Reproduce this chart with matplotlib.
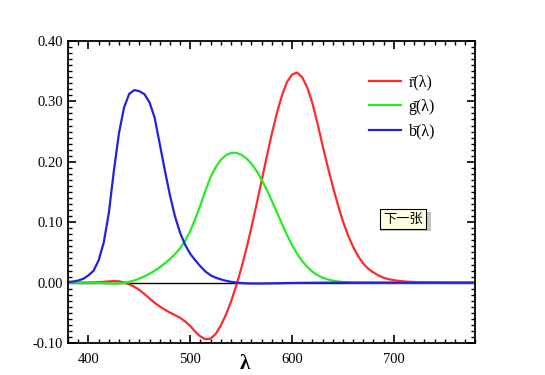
import numpy as np
import matplotlib.pyplot as plt
from matplotlib.patches import Rectangle
from matplotlib.ticker import MultipleLocator

plt.rcParams['font.family'] = ['Liberation Serif', 'DejaVu Serif']

# CIE 1931 RGB colour matching functions, read at 5 nm steps
wavelength = np.arange(380, 785, 5)
r_bar = [0.00003, 0.00005, 0.00010, 0.00017, 0.00030, 0.00047, 0.00084, 0.00139,
         0.00211, 0.00266, 0.00218, 0.00036, -0.00261, -0.00673, -0.01213, -0.01874,
         -0.02608, -0.03324, -0.03933, -0.04471, -0.04939, -0.05364, -0.05814, -0.06414,
         -0.07173, -0.08120, -0.08901, -0.09356, -0.09264, -0.08473, -0.07101, -0.05316,
         -0.03152, -0.00613, 0.02279, 0.05514, 0.09060, 0.12840, 0.16768, 0.20715,
         0.24526, 0.27989, 0.30928, 0.33184, 0.34429, 0.34756, 0.33971, 0.32265,
         0.29708, 0.26348, 0.22677, 0.19233, 0.15968, 0.12905, 0.10167, 0.07857,
         0.05932, 0.04366, 0.03149, 0.02294, 0.01687, 0.01187, 0.00819, 0.00572,
         0.00410, 0.00291, 0.00210, 0.00148, 0.00105, 0.00074, 0.00052, 0.00036,
         0.00025, 0.00017, 0.00012, 0.00008, 0.00006, 0.00004, 0.00003, 0.00001, 0.0]
g_bar = [-0.00001, -0.00002, -0.00004, -0.00007, -0.00014, -0.00022, -0.00041, -0.00070,
         -0.00110, -0.00143, -0.00119, -0.00021, 0.00149, 0.00379, 0.00678, 0.01046,
         0.01485, 0.01977, 0.02538, 0.03183, 0.03914, 0.04713, 0.05689, 0.06948,
         0.08536, 0.10593, 0.12860, 0.15262, 0.17468, 0.19113, 0.20317, 0.21083,
         0.21466, 0.21487, 0.21178, 0.20588, 0.19702, 0.18522, 0.17087, 0.15429,
         0.13610, 0.11686, 0.09754, 0.07909, 0.06246, 0.04776, 0.03557, 0.02583,
         0.01828, 0.01253, 0.00833, 0.00537, 0.00334, 0.00199, 0.00116, 0.00066,
         0.00037, 0.00021, 0.00011, 0.00006, 0.00003, 0.00001] + [0.0] * 19
b_bar = [0.00117, 0.00189, 0.00359, 0.00647, 0.01214, 0.01969, 0.03707, 0.06637,
         0.11541, 0.18575, 0.24769, 0.29012, 0.31228, 0.31860, 0.31670, 0.31166,
         0.29821, 0.27295, 0.22991, 0.18592, 0.14494, 0.10968, 0.08257, 0.06246,
         0.04776, 0.03688, 0.02698, 0.01842, 0.01221, 0.00830, 0.00549, 0.00320,
         0.00146, 0.00023, -0.00058, -0.00105, -0.00130, -0.00138, -0.00135, -0.00123,
         -0.00108, -0.00093, -0.00079, -0.00063, -0.00049, -0.00038, -0.00030, -0.00022,
         -0.00015, -0.00011, -0.00008, -0.00005, -0.00003, -0.00002, -0.00001, -0.00001] + [0.0] * 25

labels = ['r\u0304(λ)', 'g\u0304(λ)', 'b\u0304(λ)']
colors = ['#ff2a2a', '#22ee22', '#2222dd']

fig = plt.figure(figsize=(5.45, 3.75), dpi=100)
ax = fig.add_axes([0.125, 0.085, 0.747, 0.806])

ax.axhline(0, color='black', lw=1.0, zorder=1)
for y, c, lab in zip([r_bar, g_bar, b_bar], colors, labels):
    ax.plot(wavelength, y, color=c, lw=1.6, label=lab, solid_joinstyle='round')

ax.set_xlim(380, 780)
ax.set_ylim(-0.10, 0.40)
ax.xaxis.set_major_locator(MultipleLocator(100))
ax.xaxis.set_minor_locator(MultipleLocator(10))
ax.yaxis.set_major_locator(MultipleLocator(0.1))
ax.yaxis.set_minor_locator(MultipleLocator(0.01))
ax.yaxis.set_major_formatter(plt.FormatStrFormatter('%.2f'))
ax.tick_params(which='both', direction='in', top=True, right=True, labelsize=10.5)
ax.tick_params(which='major', length=6, width=1.2)
ax.tick_params(which='minor', length=3, width=1.0)
ax.tick_params(axis='x', pad=7)
for s in ax.spines.values():
    s.set_linewidth(1.3)

ax.set_xlabel('λ', fontsize=15, fontweight='bold')
ax.xaxis.set_label_coords(0.435, -0.035)

ax.legend(loc='upper left', bbox_to_anchor=(0.74, 0.89), frameon=False,
          borderpad=0, borderaxespad=0, fontsize=11.5, handlelength=2.0,
          labelspacing=0.55, handletextpad=0.45)

# "next" button with a soft shadow
fig.patches.append(Rectangle((380 / 545, 1 - 231 / 375), 51 / 545, 19 / 375,
                             transform=fig.transFigure, facecolor='#c4c4c4',
                             edgecolor='none', zorder=1))
fig.text(0.739, 0.416, '下一张', family=['Noto Sans CJK SC', 'DejaVu Sans'],
         fontsize=9.5, ha='center', va='center', zorder=3,
         bbox=dict(boxstyle='square,pad=0.25', facecolor='#ffffe1', edgecolor='black', lw=0.8))

fig.savefig('out.png', dpi=100)
